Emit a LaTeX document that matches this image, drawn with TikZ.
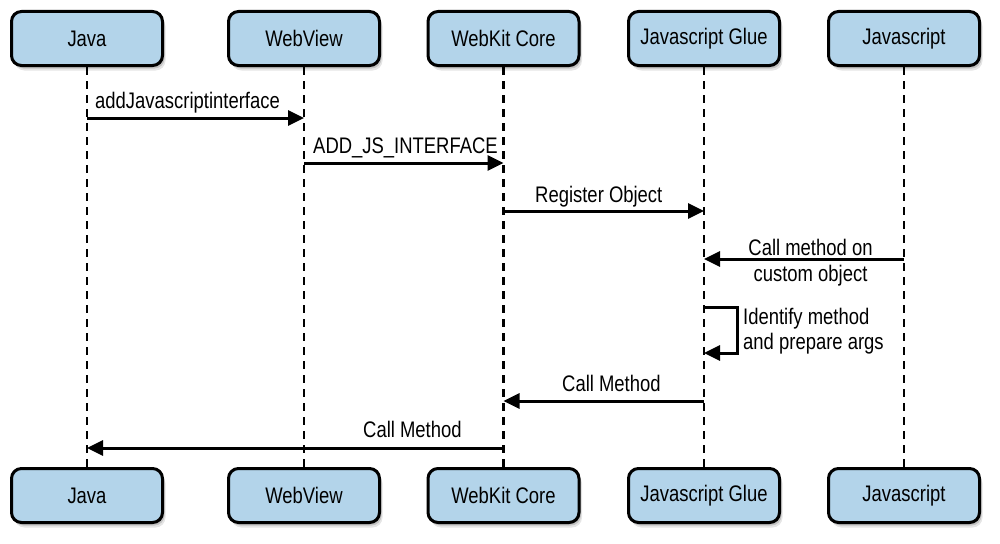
\documentclass[tikz,border=0pt]{standalone}
\usepackage{fontspec}
\setmainfont{Liberation Sans}[FakeStretch=0.82]
\usetikzlibrary{arrows.meta}
\definecolor{boxblue}{RGB}{179,212,234}
\begin{document}
\begin{tikzpicture}[x=1pt,y=-1pt,
  actor/.style={draw=black, line width=3pt, rounded corners=10pt, fill=boxblue,
    minimum width=151pt, minimum height=54pt, inner sep=0pt,
    preaction={fill=black, opacity=0.10, transform canvas={xshift=3pt,yshift=-5pt}},
    preaction={fill=black, opacity=0.15, transform canvas={xshift=2pt,yshift=-3pt}},
    preaction={fill=black, opacity=0.20, transform canvas={xshift=1pt,yshift=-1.5pt}},
    font=\fontsize{22.5}{26}\selectfont},
  life/.style={line width=2.8pt, dash pattern=on 8pt off 6pt},
  msg/.style={line width=3pt, -{Triangle[length=16pt,width=15pt]}},
  lbl/.style={font=\fontsize{22.5}{26}\selectfont, inner sep=0pt}
]
\useasboundingbox (0,0) rectangle (1000,543);

% actors
\node[actor] (jT) at (87,38.5) {Java};
\node[actor] (wT) at (304,38.5) {WebView};
\node[actor] (kT) at (503.5,38.5) {WebKit Core};
\node[actor] (gT) at (704,38.5) {Javascript Glue};
\node[actor] (sT) at (904,38.5) {Javascript};
\node[actor] (jB) at (87,495.5) {Java};
\node[actor] (wB) at (304,495.5) {WebView};
\node[actor] (kB) at (503.5,495.5) {WebKit Core};
\node[actor] (gB) at (704,495.5) {Javascript Glue};
\node[actor] (sB) at (904,495.5) {Javascript};

% lifelines
\draw[life] (jT.south) -- (jB.north);
\draw[life] (wT.south) -- (wB.north);
\draw[life] (kT.south) -- (kB.north);
\draw[life] (gT.south) -- (gB.north);
\draw[life] (sT.south) -- (sB.north);

% message end points
\coordinate (j1) at (87,118);   \coordinate (w1) at (304,118);
\coordinate (w2) at (304,163);  \coordinate (k2) at (503.5,163);
\coordinate (k3) at (503.5,211);\coordinate (g3) at (704,211);
\coordinate (s4) at (904,259);  \coordinate (g4) at (704,259);
\coordinate (g5) at (704,307);  \coordinate (g6) at (704,353);
\coordinate (g7) at (704,401);  \coordinate (k7) at (503.5,401);
\coordinate (k8) at (503.5,448);\coordinate (j8) at (87,448);

% messages
\draw[msg] (j1) -- (w1);
\draw[msg] (w2) -- (k2);
\draw[msg] (k3) -- (g3);
\draw[msg] (s4) -- (g4);
\draw[msg] (g5) -- ++(33,0) |- (g6);
\draw[msg] (g7) -- (k7);
\draw[msg] (k8) -- (j8);

% labels
\node[lbl, anchor=base west] (t1) at (95,108) {addJavascriptinterface};
\node[lbl, anchor=base west] (t2) at (313,153) {ADD\_JS\_INTERFACE};
\node[lbl, anchor=base west] (t3) at (535,202) {Register Object};
\node[lbl, anchor=base] (t4a) at (810.5,255) {Call method on};
\node[lbl, anchor=base] (t4b) at (810.5,281) {custom object};
\node[lbl, anchor=base west] (t5a) at (743,324) {Identify method};
\node[lbl, anchor=base west] (t5b) at (743,349) {and prepare args};
\node[lbl, anchor=base west] (t6) at (562,391) {Call Method};
\node[lbl, anchor=base west] (t7) at (363,437) {Call Method};
\end{tikzpicture}
\end{document}
